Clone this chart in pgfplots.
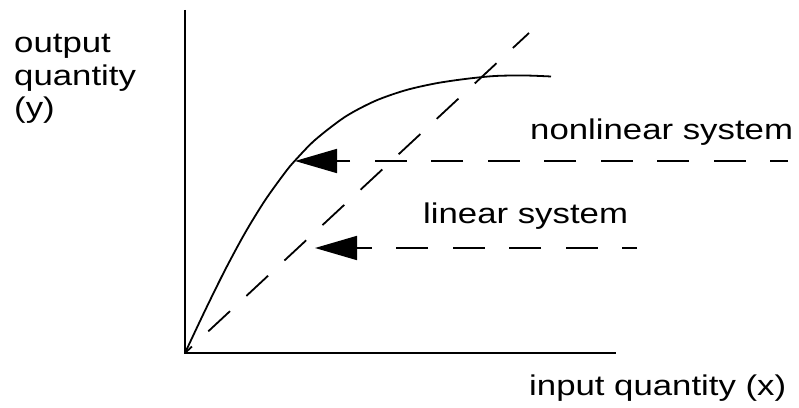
\documentclass[border=0pt]{standalone}
\usepackage{fontspec}
\setmainfont{Liberation Sans}[FakeStretch=1.22]
\usepackage{pgfplots}
\pgfplotsset{compat=1.18}
\usetikzlibrary{arrows.meta}
\begin{document}
\begin{tikzpicture}
\useasboundingbox (0,0) rectangle (799pt,407pt);
\begin{axis}[x=1pt, y=1pt, xmin=0, xmax=799, ymin=0, ymax=407,
  hide axis, clip=false, scale only axis, anchor=south west, at={(0,0)}]
% axes
\addplot[black, line width=2.2pt, no marks] coordinates {(185,397) (185,54) (616,54)};
% nonlinear curve
\addplot[black, line width=1.8pt, no marks, smooth] coordinates {
(185,54) (205,96.4) (225,136.9) (245,174) (265,206.6) (285,234.4) (295,246.4)
(315,267) (345,290.1) (375,306) (405,316.6) (435,323.5) (465,328) (495,331)
(525,331.5) (551,330.5)};
% linear system (dashed)
\addplot[black, line width=1.8pt, no marks, dash pattern=on 29.6pt off 22.4pt, dash phase=7.6pt]
coordinates {(529,374) (185,54)};
% arrows
\addplot[black, line width=1.8pt, no marks, dash pattern=on 32pt off 24.5pt, dash phase=14pt,
  -{Triangle[length=42pt,width=24pt]}] coordinates {(788,246) (295,246)};
\addplot[black, line width=1.8pt, no marks, dash pattern=on 32pt off 24.5pt, dash phase=17pt,
  -{Triangle[length=42pt,width=24pt]}] coordinates {(637,159) (315,159)};
% labels
\begin{scope}[every node/.style={inner sep=0pt, anchor=base west, font=\fontsize{28.5}{32}\selectfont}]
\node at (axis cs:14,354) {output};
\node at (axis cs:14,321) {quantity};
\node at (axis cs:14,289) {(y)};
\node at (axis cs:530,267) {nonlinear system};
\node at (axis cs:423,183) {linear system};
\node at (axis cs:529,12) {input quantity (x)};
\end{scope}
\end{axis}
\end{tikzpicture}
\end{document}
